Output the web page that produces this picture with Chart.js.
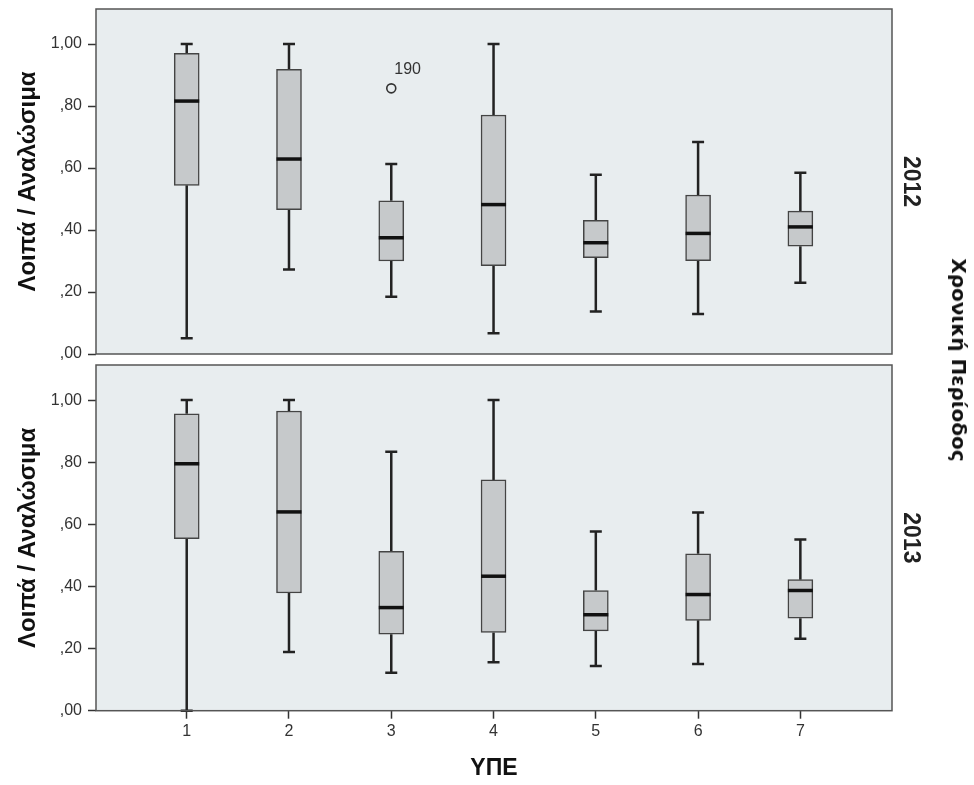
<!DOCTYPE html>
<html>
<head>
<meta charset="utf-8">
<script src="https://cdn.jsdelivr.net/npm/chart.js@4/dist/chart.umd.min.js"></script>
<style>
  body { margin: 0; background: #fff; }
  #wrap { position: relative; width: 974px; height: 785px; overflow: hidden; }
  #top { position: absolute; left: 0; top: 0; }
  #bottom { position: absolute; left: 0; top: 360px; }
  #side {
    position: absolute; left: 959px; top: 360px;
    transform: translate(-50%, -50%) rotate(90deg);
    font: bold 20px "DejaVu Sans", sans-serif; color: #111; white-space: nowrap;
  }
</style>
</head>
<body>
<div id="wrap">
  <canvas id="top" width="974" height="372"></canvas>
  <canvas id="bottom" width="974" height="425"></canvas>
  <div id="side">Χρονική Περίοδος</div>
</div>
<script>
const GROUPS = ['1', '2', '3', '4', '5', '6', '7'];
const XTICKS = [1, 2, 3, 4, 5, 6, 7];
const YTICKS = [0, 0.2, 0.4, 0.6, 0.8, 1.0];

// 2012
const MIN_2012 = [0.051, 0.273, 0.185, 0.067, 0.137, 0.129, 0.230];
const Q1_2012 = [0.544, 0.466, 0.300, 0.285, 0.311, 0.301, 0.348];
const MED_2012 = [0.816, 0.629, 0.375, 0.482, 0.359, 0.389, 0.410];
const Q3_2012 = [0.970, 0.918, 0.494, 0.771, 0.431, 0.513, 0.461];
const MAX_2012 = [1.000, 1.000, 0.613, 1.000, 0.578, 0.684, 0.585];
const OUT_X_2012 = [3];
const OUT_Y_2012 = [0.857];
const OUT_LABEL_2012 = ['190'];

// 2013
const MIN_2013 = [0.000, 0.189, 0.122, 0.156, 0.144, 0.150, 0.232];
const Q1_2013 = [0.554, 0.379, 0.246, 0.252, 0.257, 0.291, 0.298];
const MED_2013 = [0.795, 0.640, 0.332, 0.433, 0.309, 0.374, 0.387];
const Q3_2013 = [0.956, 0.965, 0.513, 0.743, 0.387, 0.505, 0.422];
const MAX_2013 = [1.000, 1.000, 0.834, 1.000, 0.577, 0.638, 0.551];

const FONT = '"Liberation Sans", Arial, sans-serif';
const INK = '#222';
const PLOT_BG = '#e8edef';
const BOX_FILL = '#c6c9cb';
const X_MIN = 0.113;
const X_MAX = 7.896;
const Y_MAX = 1.113;

const fmt = (v) => v.toFixed(2).replace('.', ',').replace(/^0/, '');

const noPad = (s) => {
  s.paddingTop = 0;
  s.paddingBottom = 0;
  s.paddingLeft = 0;
  s.paddingRight = 0;
};

const panelPlugin = {
  id: 'panel',
  beforeDatasetsDraw(chart) {
    const { ctx, chartArea: a } = chart;
    ctx.save();
    ctx.fillStyle = PLOT_BG;
    ctx.fillRect(a.left, a.top, a.right - a.left, a.bottom - a.top);
    // whiskers
    const p = chart.options.plugins.panel;
    const xs = chart.scales.x, ys = chart.scales.y;
    ctx.strokeStyle = INK;
    ctx.lineWidth = 2.5;
    p.min.forEach((_, i) => {
      const x = xs.getPixelForValue(XTICKS[i]);
      ctx.beginPath();
      [[p.min[i], p.q1[i]], [p.q3[i], p.max[i]]].forEach(([lo, hi]) => {
        ctx.moveTo(x, ys.getPixelForValue(lo));
        ctx.lineTo(x, ys.getPixelForValue(hi));
      });
      [p.min[i], p.max[i]].forEach((v) => {
        const y = ys.getPixelForValue(v);
        ctx.moveTo(x - 6, y);
        ctx.lineTo(x + 6, y);
      });
      ctx.stroke();
    });
    ctx.restore();
  },
  afterDatasetsDraw(chart) {
    const { ctx, chartArea: a } = chart;
    const p = chart.options.plugins.panel;
    const xs = chart.scales.x, ys = chart.scales.y;
    ctx.save();
    ctx.strokeStyle = '#111';
    ctx.lineWidth = 3.5;
    p.med.forEach((v, i) => {
      const x = xs.getPixelForValue(XTICKS[i]);
      const y = ys.getPixelForValue(v);
      ctx.beginPath();
      ctx.moveTo(x - 12.5, y);
      ctx.lineTo(x + 12.5, y);
      ctx.stroke();
    });
    // outlier case labels
    ctx.fillStyle = '#333';
    ctx.font = '16px ' + FONT;
    ctx.textBaseline = 'middle';
    (p.labels || []).forEach((t, i) => {
      ctx.fillText(t, xs.getPixelForValue(p.outX[i]) + 3, ys.getPixelForValue(p.outY[i]) - 19);
    });
    // frame
    ctx.strokeStyle = '#555';
    ctx.lineWidth = 1.5;
    ctx.strokeRect(a.left, a.top, a.right - a.left, a.bottom - a.top);
    ctx.restore();
  },
};

function makePanel(canvasId, year, d, showX, padding) {
  const datasets = [
    {
      type: 'bar',
      data: XTICKS.map((x, i) => ({ x, y: [d.q1[i], d.q3[i]] })),
      backgroundColor: BOX_FILL,
      borderColor: '#444',
      borderWidth: 1.5,
      borderSkipped: false,
      barThickness: 25,
    },
  ];
  if (d.outX && d.outX.length) {
    datasets.push({
      type: 'scatter',
      data: d.outX.map((x, i) => ({ x, y: d.outY[i] })),
      pointStyle: 'circle',
      pointRadius: 4.5,
      pointBackgroundColor: 'rgba(0,0,0,0)',
      pointBorderColor: '#333',
      pointBorderWidth: 1.6,
    });
  }
  return new Chart(document.getElementById(canvasId), {
    type: 'bar',
    data: { datasets },
    options: {
      responsive: false,
      animation: false,
      layout: { padding },
      plugins: {
        legend: { display: false },
        tooltip: { enabled: false },
        panel: d,
      },
      scales: {
        x: {
          type: 'linear',
          min: X_MIN,
          max: X_MAX,
          offset: false,
          display: showX,
          afterBuildTicks: (s) => { s.ticks = XTICKS.map((value) => ({ value })); },
          afterFit: (s) => { noPad(s); s.height = showX ? 74.3 : 0; },
          ticks: { font: { size: 16, family: FONT }, color: '#333', padding: 3, callback: (v) => GROUPS[XTICKS.indexOf(v)] },
          grid: { offset: false, drawOnChartArea: false, tickLength: 8, tickColor: '#333', tickWidth: 1.5 },
          border: { display: false },
          title: { display: true, text: 'ΥΠΕ', font: { size: 23, weight: 'bold', family: FONT }, color: '#111', padding: { top: 0, bottom: 3 } },
        },
        y: {
          position: 'left',
          min: 0,
          max: Y_MAX,
          afterBuildTicks: (s) => { s.ticks = YTICKS.map((value) => ({ value })); },
          afterFit: (s) => { noPad(s); s.width = 96; },
          ticks: { font: { size: 16, family: FONT }, color: '#333', padding: 6, callback: (v) => fmt(v) },
          grid: { drawOnChartArea: false, tickLength: 8, tickColor: '#333', tickWidth: 1.5 },
          border: { display: false },
          title: { display: true, text: 'Λοιπά / Αναλώσιμα', font: { size: 24, weight: 'bold', family: FONT }, color: '#111', padding: { top: 14, bottom: 0 } },
        },
        yR: {
          position: 'right',
          min: 0,
          max: Y_MAX,
          afterFit: (s) => { noPad(s); s.width = 82; },
          ticks: { display: false },
          grid: { display: false },
          border: { display: false },
          title: { display: true, text: year, font: { size: 23, weight: 'bold', family: FONT }, color: '#222', padding: { top: 50, bottom: 0 } },
        },
      },
    },
    plugins: [panelPlugin],
  });
}

makePanel('top', '2012', {
  min: MIN_2012, q1: Q1_2012, med: MED_2012, q3: Q3_2012, max: MAX_2012,
  outX: OUT_X_2012, outY: OUT_Y_2012, labels: OUT_LABEL_2012,
}, false, { left: 0, right: 0, top: 9, bottom: 18 });

makePanel('bottom', '2013', {
  min: MIN_2013, q1: Q1_2013, med: MED_2013, q3: Q3_2013, max: MAX_2013,
}, true, { left: 0, right: 0, top: 5, bottom: 0 });
</script>
</body>
</html>
